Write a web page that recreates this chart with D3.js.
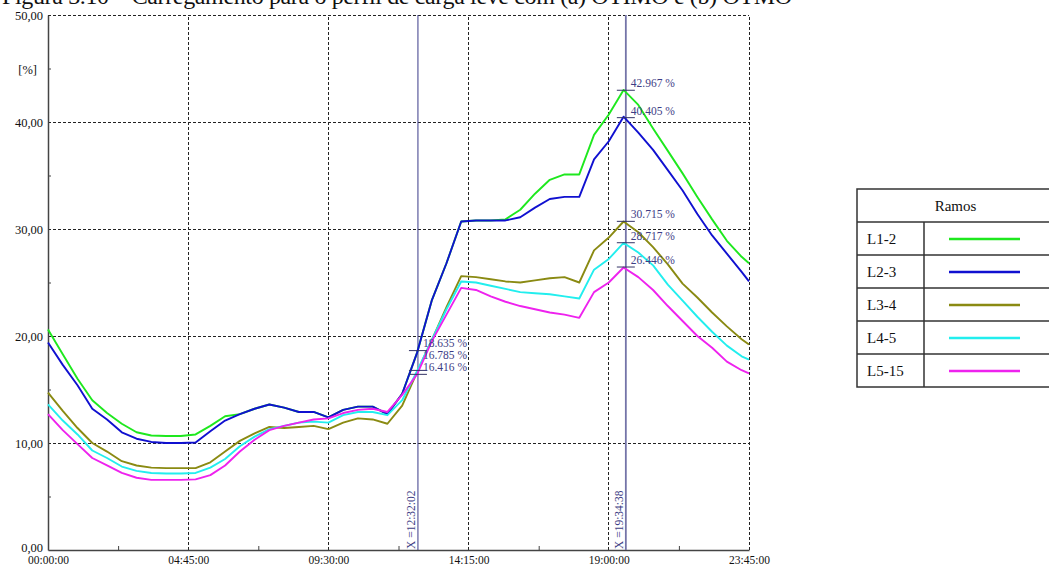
<!DOCTYPE html>
<html><head><meta charset="utf-8">
<script src="https://cdn.jsdelivr.net/npm/d3@7"></script>
<style>
html,body{margin:0;padding:0;background:#fff;}
svg{display:block;font-family:"Liberation Serif","Times New Roman",serif;}
</style></head>
<body>
<svg id="c" width="1049" height="570"></svg>
<script>
// ---- data ----
const times = [0,30,60,90,120,150,180,210,240,270,300,330,360,390,420,450,480,510,540,570,600,630,660,690,720,750,780,810,840,870,900,930,960,990,1020,1050,1080,1110,1140,1170,1200,1230,1260,1290,1320,1350,1380,1410,1425];
const seriesNames = ["L1-2","L2-3","L3-4","L4-5","L5-15"];
const L12 = [20.6,18.3,16.0,14.0,12.8,11.8,11.0,10.7,10.65,10.65,10.8,11.6,12.5,12.7,13.2,13.6,13.3,12.9,12.9,12.4,13.1,13.4,13.4,12.7,14.6,18.4,23.3,26.8,30.7,30.8,30.8,30.9,31.8,33.3,34.6,35.1,35.1,38.8,40.7,43.0,41.6,39.4,37.3,35.2,33.0,30.9,28.9,27.4,26.8];
const L23 = [19.4,17.3,15.4,13.2,12.2,11.0,10.4,10.1,10.0,10.0,10.05,11.1,12.1,12.7,13.2,13.6,13.3,12.9,12.9,12.4,13.1,13.4,13.4,12.7,14.6,18.4,23.3,26.8,30.7,30.8,30.8,30.8,31.1,32.0,32.8,33.0,33.0,36.5,38.2,40.5,39.0,37.4,35.5,33.6,31.4,29.4,27.7,26.0,25.1];
const L34 = [14.7,13.0,11.4,10.0,9.2,8.3,7.9,7.7,7.65,7.65,7.65,8.2,9.2,10.2,10.9,11.5,11.4,11.5,11.6,11.3,11.9,12.3,12.2,11.8,13.5,16.6,19.6,22.7,25.6,25.5,25.3,25.1,25.0,25.2,25.4,25.5,25.0,28.0,29.2,30.7,29.7,28.3,26.7,24.9,23.6,22.2,20.9,19.7,19.2];
const L45 = [13.6,12.1,10.8,9.3,8.6,7.8,7.4,7.2,7.15,7.15,7.2,7.7,8.5,9.7,10.6,11.3,11.6,11.9,12.0,11.9,12.6,12.9,12.9,12.6,14.0,16.7,19.6,22.5,25.1,25.0,24.7,24.4,24.1,24.0,23.9,23.7,23.5,26.2,27.2,28.7,27.8,26.6,24.8,23.3,21.8,20.4,19.1,18.1,17.8];
const L515 = [12.7,11.2,9.9,8.6,7.9,7.2,6.75,6.55,6.55,6.55,6.6,7.0,7.9,9.2,10.3,11.2,11.6,11.9,12.2,12.3,12.8,13.1,13.2,12.9,14.5,16.4,19.5,22.0,24.5,24.3,23.7,23.2,22.8,22.5,22.2,22.0,21.7,24.1,25.0,26.4,25.5,24.3,22.8,21.4,20.0,18.9,17.6,16.8,16.5];
const seriesColors = ["#1ee81e","#1010d0","#8a8a12","#22eeee","#ee22ee"];
const yTicks = [0,10,20,30,40,50];
const yMinor = [5,15,25,35,45];
const xTicks = [0,285,570,855,1140,1425];
const xMinor = [142.5,427.5,712.5,997.5,1282.5];
const cursorLabels = ["12:32:02","19:34:38"];
const cursor1Values = [18.635,16.785,16.416];
const cursor2Values = [42.967,40.405,30.715,28.717,26.446];
const titleText = "Figura 3.10 – Carregamento para o perfil de carga leve com (a) OTIMO e (b) OTMO";

// ---- layout ----
const svg = d3.select("#c");
const x = d3.scaleLinear().domain([0,1425]).range([48,749]);
const y = d3.scaleLinear().domain([0,50]).range([550,15]);
const toMin = s => { const p = s.split(":").map(Number); return p[0]*60+p[1]+p[2]/60; };
const fmtTime = m => { const h=Math.floor(m/60), mm=Math.round(m%60); return String(h).padStart(2,"0")+":"+String(mm).padStart(2,"0")+":00"; };

// title (mostly cut off at top, as in the reference)
svg.append("text").attr("x",2).attr("y",4).attr("font-size",24).attr("fill","#111")
  .attr("textLength",790).attr("lengthAdjust","spacing")
  .text(titleText);

// grid
const g = svg.append("g");
g.selectAll(".hg").data(yTicks.filter(d=>d>0)).join("line")
  .attr("x1",x(0)).attr("x2",x(1425)).attr("y1",d=>y(d)).attr("y2",d=>y(d))
  .attr("stroke","#222").attr("stroke-dasharray","3,2").attr("stroke-width",1).attr("shape-rendering","crispEdges");
g.selectAll(".vg").data(xTicks.filter(d=>d>0)).join("line")
  .attr("x1",d=>x(d)).attr("x2",d=>x(d)).attr("y1",y(0)).attr("y2",y(50))
  .attr("stroke","#222").attr("stroke-dasharray","3,2").attr("stroke-width",1).attr("shape-rendering","crispEdges");

// axes
const yAx = svg.append("g").attr("transform",`translate(${x(0)},0)`)
  .call(d3.axisLeft(y).tickValues(yTicks).tickSize(0).tickPadding(5).tickFormat(d=>d.toFixed(2).replace(".",",")));
yAx.select(".domain").attr("stroke","#444").attr("stroke-width",1.5);
yAx.selectAll("text").attr("font-family","Liberation Serif, serif").attr("font-size",12.5).attr("fill","#111");
yAx.selectAll(".tick").filter(d=>d===0).select("text").attr("dy","0.1em");
const yMin = svg.append("g").attr("transform",`translate(${x(0)},0)`)
  .call(d3.axisLeft(y).tickValues(yMinor).tickSize(-3).tickFormat(""));
yMin.select(".domain").remove();
yMin.selectAll("line").attr("stroke","#444");

const xAx = svg.append("g").attr("transform",`translate(0,${y(0)})`)
  .call(d3.axisBottom(x).tickValues(xTicks).tickSize(0).tickPadding(6).tickFormat(fmtTime));
xAx.select(".domain").attr("stroke","#444").attr("stroke-width",1.5);
xAx.selectAll("text").attr("font-family","Liberation Serif, serif").attr("font-size",11.5).attr("fill","#111");
const xMin = svg.append("g").attr("transform",`translate(0,${y(0)})`)
  .call(d3.axisBottom(x).tickValues(xMinor).tickSize(-4).tickFormat(""));
xMin.select(".domain").remove();
xMin.selectAll("line").attr("stroke","#444");

svg.append("text").attr("x",37).attr("y",74).attr("text-anchor","end").attr("font-size",12.5).attr("fill","#111").text("[%]");

// cursors (drawn beneath lines)
const cx = cursorLabels.map(toMin).map(x);
svg.append("line").attr("x1",cx[0]).attr("x2",cx[0]).attr("y1",y(50)).attr("y2",y(0))
  .attr("stroke","#3a3a88").attr("stroke-width",1);
svg.append("line").attr("x1",cx[1]).attr("x2",cx[1]).attr("y1",y(50)).attr("y2",y(0))
  .attr("stroke","#7474a8").attr("stroke-width",1.8);

// series
const all = [L12,L23,L34,L45,L515];
const line = d3.line().x((d,i)=>x(times[i])).y(d=>y(d));
svg.append("g").selectAll("path").data(all).join("path")
  .attr("d",d=>line(d)).attr("fill","none")
  .attr("stroke",(d,i)=>seriesColors[i]).attr("stroke-width",1.9).attr("stroke-linejoin","round");

// cursor labels
cursorLabels.forEach((t,i)=>{
  svg.append("text").attr("transform",`translate(${cx[i]-3},${y(0)-1}) rotate(-90)`)
    .attr("font-size",11.5).attr("fill","#3d3d85").text("X =" + t);
});

// value markers and labels
function valueLabels(px, vals){
  const mk = vals.map(v=>y(v));
  const base = mk.map(m=>m-3);
  for(let i=base.length-2;i>=0;i--) base[i] = Math.min(base[i], base[i+1]-12);
  vals.forEach((v,i)=>{
    svg.append("line").attr("x1",px-9).attr("x2",px+9).attr("y1",mk[i]).attr("y2",mk[i])
      .attr("stroke","#333366").attr("stroke-width",1);
    svg.append("text").attr("x",px+5).attr("y",base[i]).attr("font-size",11.5)
      .attr("fill","#3d3d85").text(v.toFixed(3)+" %");
  });
}
valueLabels(cx[0], cursor1Values);
valueLabels(cx[1], cursor2Values);

// legend table
const lg = svg.append("g");
const lx0=857, lx1=1054, ly0=189, hh=33, rh=33, divX=924;
lg.append("rect").attr("x",lx0).attr("y",ly0).attr("width",lx1-lx0).attr("height",hh+rh*seriesNames.length)
  .attr("fill","#fff").attr("stroke","#333").attr("stroke-width",1.5);
lg.selectAll(".rl").data(seriesNames).join("line")
  .attr("x1",lx0).attr("x2",lx1).attr("y1",(d,i)=>ly0+hh+rh*i).attr("y2",(d,i)=>ly0+hh+rh*i)
  .attr("stroke","#333").attr("stroke-width",1.5);
lg.append("line").attr("x1",divX).attr("x2",divX).attr("y1",ly0+hh).attr("y2",ly0+hh+rh*seriesNames.length)
  .attr("stroke","#333").attr("stroke-width",1.5);
lg.append("text").attr("x",(lx0+lx1)/2).attr("y",ly0+22).attr("text-anchor","middle")
  .attr("font-size",15).attr("fill","#111").text("Ramos");
lg.selectAll(".nm").data(seriesNames).join("text")
  .attr("x",lx0+10).attr("y",(d,i)=>ly0+hh+rh*i+22).attr("font-size",15).attr("fill","#111").text(d=>d);
lg.selectAll(".sw").data(seriesNames).join("line")
  .attr("x1",949).attr("x2",1020).attr("y1",(d,i)=>ly0+hh+rh*i+17).attr("y2",(d,i)=>ly0+hh+rh*i+17)
  .attr("stroke",(d,i)=>seriesColors[i]).attr("stroke-width",2.6);
</script>
</body></html>
